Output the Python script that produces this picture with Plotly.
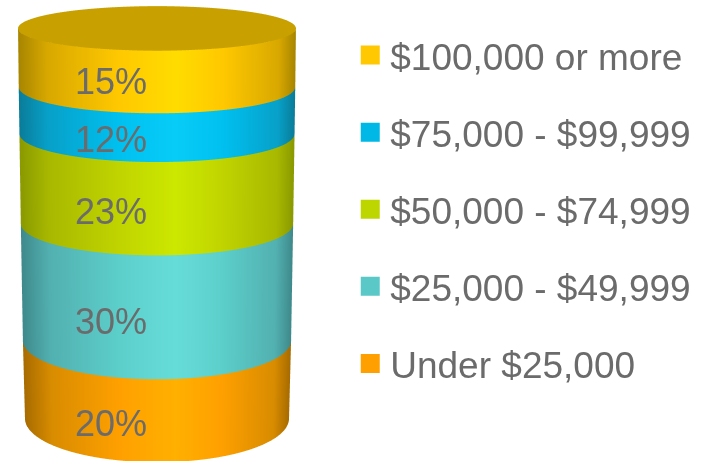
import numpy as np
import plotly.graph_objects as go

categories = ["Under $25,000", "$25,000 - $49,999", "$50,000 - $74,999", "$75,000 - $99,999", "$100,000 or more"]
values = [20, 30, 23, 12, 15]
swatches = ["#FFA000", "#5BC8C8", "#BDD600", "#00B8E6", "#FFC800"]
shades = [
    ["#A86C00", "#D88C00", "#FFA000", "#FFB000"],
    ["#3F8A8C", "#52B0B0", "#5CCFCB", "#66DCD8"],
    ["#8A9A00", "#A8B800", "#C0D400", "#CCE800"],
    ["#0A7D9A", "#07A0C8", "#00C0F0", "#08CCF8"],
    ["#A88600", "#D8A800", "#FFC800", "#FFDC00"],
]
cap_colour = "#C8A000"
label_y = [423, 321, 211, 139, 82]
legend_order = [4, 3, 2, 1, 0]

# silhouette of the drawn cylinder along its height (perspective look)
h_knots = [0, 20, 50, 73, 85, 100]
depth_knots = [2.04, 1.81, 1.49, 1.32, 1.23, 1.04]
width_knots = [0.95, 0.965, 0.98, 0.99, 0.995, 1.0]

theta = np.linspace(np.pi, 2 * np.pi, 181)
fig = go.Figure()
bottom = 0
for v, sh in zip(values, shades):
    zs = np.linspace(bottom, bottom + v, 12)
    T, Z = np.meshgrid(theta, zs)
    rx = np.interp(Z, h_knots, width_knots)
    ry = np.interp(Z, h_knots, depth_knots)
    X = rx * np.cos(T)
    Y = ry * np.sin(T)
    U = (np.cos(T) + 1) / 2
    cs = [[0, sh[0]], [0.1, sh[1]], [0.36, sh[2]], [0.57, sh[3]], [0.74, sh[2]], [0.94, sh[1]], [1, sh[0]]]
    fig.add_trace(go.Surface(x=X, y=Y, z=Z, surfacecolor=U, colorscale=cs, cmin=0, cmax=1,
                             showscale=False, hoverinfo="skip",
                             lighting=dict(ambient=1, diffuse=0, specular=0, fresnel=0)))
    bottom += v

# top cap
full = np.linspace(0, 2 * np.pi, 181)
R, T = np.meshgrid(np.linspace(0, 1, 8), full)
rx_t, ry_t = width_knots[-1], depth_knots[-1]
fig.add_trace(go.Surface(x=rx_t * R * np.cos(T), y=ry_t * R * np.sin(T), z=np.full(R.shape, sum(values)),
                         surfacecolor=np.zeros(R.shape), colorscale=[[0, cap_colour], [1, cap_colour]],
                         showscale=False, hoverinfo="skip",
                         lighting=dict(ambient=1, diffuse=0, specular=0, fresnel=0)))

for i in legend_order:
    fig.add_trace(go.Scatter(x=[None], y=[None], mode="markers", name=categories[i], legendgroup=categories[i],
                             marker=dict(symbol="square", size=16, color=swatches[i],
                                         line=dict(width=3, color=swatches[i]))))

elev = np.radians(9)
d = 3.36
axis = dict(visible=False, showgrid=False, zeroline=False, showbackground=False, showspikes=False)
fig.update_layout(
    width=709, height=461, margin=dict(l=0, r=0, t=0, b=0),
    paper_bgcolor="white", plot_bgcolor="white",
    font=dict(family="Liberation Sans, Arial, sans-serif", color="#6B6B6B"),
    xaxis=dict(visible=False, domain=[0.5, 1]), yaxis=dict(visible=False),
    scene=dict(
        domain=dict(x=[0, 0.443], y=[0, 1]),
        xaxis=dict(axis, range=[-1.05, 1.05]), yaxis=dict(axis, range=[-2.1, 2.1]),
        zaxis=dict(axis, range=[-6.8, 103.2]),
        aspectmode="manual", aspectratio=dict(x=1.266, y=2.495, z=1.885),
        camera=dict(projection=dict(type="orthographic"),
                    center=dict(x=0, y=0, z=0),
                    eye=dict(x=0, y=-d * np.cos(elev), z=d * np.sin(elev)),
                    up=dict(x=0, y=0, z=1)),
    ),
    showlegend=True,
    legend=dict(x=0.494, y=0.5455, xanchor="left", yanchor="middle", font=dict(size=37, color="#6B6B6B"),
                tracegroupgap=26, bgcolor="rgba(0,0,0,0)", itemclick=False, itemdoubleclick=False),
    annotations=[dict(text=f"{v}%", x=110.5 / 709, y=1 - ly / 461, xref="paper", yref="paper", showarrow=False,
                      font=dict(size=36, color="#6B6B6B"), xanchor="center", yanchor="middle")
                 for v, ly in zip(values, label_y)],
)
fig.write_html("out.html", config=dict(displayModeBar=False),
               post_script="document.body.style.margin='0';")
